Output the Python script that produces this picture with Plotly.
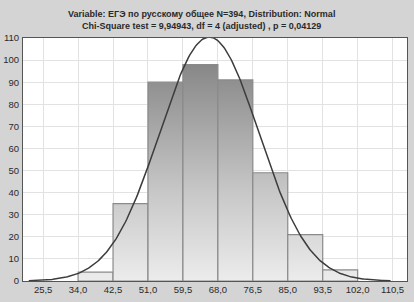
import numpy as np
import plotly.graph_objects as go

# Data
bin_edges = [25.5, 34.0, 42.5, 51.0, 59.5, 68.0, 76.5, 85.0, 93.5, 102.0, 110.5]
counts = [0, 4, 35, 90, 98, 91, 49, 21, 5, 0]
tick_vals = [25.5, 34.0, 42.5, 51.0, 59.5, 68.0, 76.5, 85.0, 93.5, 102.0, 110.5]
tick_text = ["25,5", "34,0", "42,5", "51,0", "59,5", "68,0", "76,5", "85,0", "93,5", "102,0", "110,5"]
y_ticks = list(range(0, 111, 10))
n_total = 394
fit_mean = 65.9
fit_sd = 12.1
title_lines = ["Variable: ЕГЭ по русскому общее N=394, Distribution: Normal",
               "Chi-Square test = 9,94943, df = 4 (adjusted) , p = 0,04129"]

fig = go.Figure()

grad = dict(type="vertical", start=0, stop=110,
            colorscale=[[0, "#ececec"], [0.35, "#c9c9c9"], [1, "#7a7a7a"]])

for i, c in enumerate(counts):
    if c <= 0:
        continue
    x0, x1 = bin_edges[i], bin_edges[i + 1]
    fig.add_trace(go.Scatter(
        x=[x0, x0, x1, x1, x0], y=[0, c, c, 0, 0],
        mode="lines", fill="toself", fillgradient=grad,
        line=dict(color="#8a8a8a", width=1.2),
        hoverinfo="skip", showlegend=False))

bw = bin_edges[1] - bin_edges[0]
xs = np.linspace(22.0, 110.0, 300)
ys = n_total * bw / (fit_sd * np.sqrt(2 * np.pi)) * np.exp(-0.5 * ((xs - fit_mean) / fit_sd) ** 2)
fig.add_trace(go.Scatter(x=xs, y=ys, mode="lines",
                         line=dict(color="#3c3c3c", width=1.5),
                         showlegend=False, hoverinfo="skip", cliponaxis=False))

fig.update_layout(
    width=414, height=302,
    margin=dict(l=23, r=7, t=38, b=21, autoexpand=False),
    paper_bgcolor="#d4d4d4", plot_bgcolor="#ffffff",
    font=dict(family="Liberation Sans, Arial", size=9, color="#222222"),
    annotations=[dict(text="<b>" + title_lines[0] + "<br>" + title_lines[1] + "</b>",
                      x=0.5, y=1, xref="paper", yref="paper", xanchor="center",
                      yanchor="bottom", yshift=5, xshift=-14, showarrow=False,
                      font=dict(size=9, color="#2a2a2a"), align="center")],
)
fig.update_xaxes(range=[20.6, 114.0], tickvals=tick_vals, ticktext=tick_text,
                 showgrid=True, gridcolor="#e2e2e2", gridwidth=1,
                 showline=True, linecolor="#555555", linewidth=1, mirror=True,
                 ticks="", zeroline=False, automargin=False,
                 tickfont=dict(size=9.5, color="#2a2a2a", family="Liberation Sans, Arial"))
fig.update_yaxes(range=[0, 110], tickvals=y_ticks,
                 showgrid=True, gridcolor="#e2e2e2", gridwidth=1,
                 showline=True, linecolor="#555555", linewidth=1, mirror=True,
                 ticks="", zeroline=False, ticklabelstandoff=1, automargin=False,
                 tickfont=dict(size=9.5, color="#2a2a2a", family="Liberation Sans, Arial"))

fig.write_html("out.html",
               config={"displayModeBar": False},
               post_script="document.body.style.margin='0';document.body.style.background='#d4d4d4';")
